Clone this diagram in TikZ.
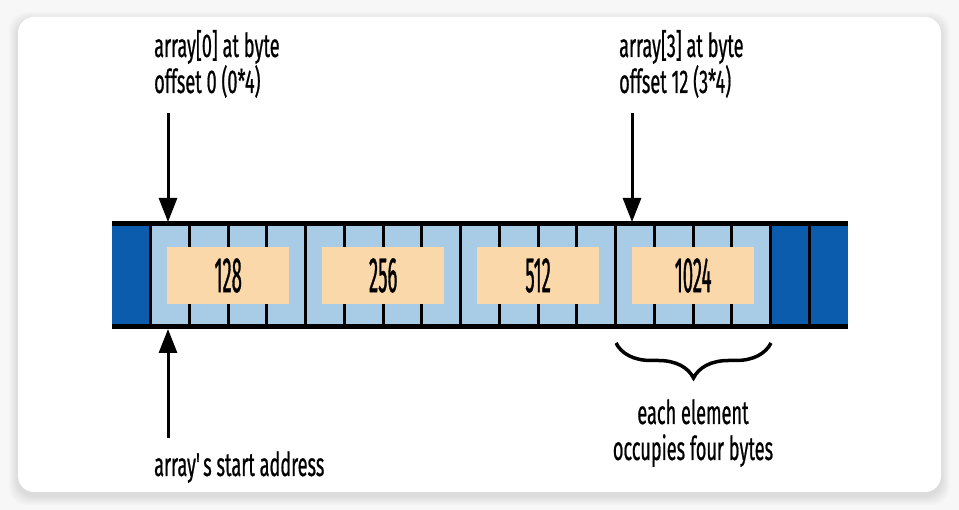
\documentclass[tikz,border=0pt]{standalone}
\usepackage{fontspec}
\setmainfont[FakeStretch=0.55, FakeBold=0.6]{Fira Sans}
\newfontfamily\numfont[FakeStretch=0.37, FakeBold=0.6]{Fira Sans}
\usepackage{tikz}
\usetikzlibrary{arrows.meta,calc,positioning,decorations.pathreplacing}
\definecolor{darkcell}{HTML}{0B5CAD}
\definecolor{lightcell}{HTML}{A8CCE6}
\definecolor{elemfill}{HTML}{FBD8AA}
\definecolor{pagebg}{HTML}{F7F7F7}
\tikzset{cell/.style={fill=lightcell, draw=none, minimum width=38.74pt, minimum height=103pt, inner sep=0pt, outer sep=0pt}}
\tikzset{darkc/.style={cell, fill=darkcell}}
\tikzstyle{elem}=[fill=elemfill, minimum width=122pt, minimum height=57pt, inner sep=0pt, font=\numfont\fontsize{50}{50}\selectfont]
\tikzstyle{lbl}=[inner sep=0pt, align=left, font=\fontsize{33}{36}\selectfont]
\tikzstyle{sep}=[line width=3pt]
\tikzstyle{rail}=[line width=5pt]
\tikzstyle{ptr}=[->, line width=3pt]

\begin{document}
\begin{tikzpicture}[x=1pt, y=-1pt, >={Triangle[length=24pt,width=18pt]}]
\useasboundingbox (0,0) rectangle (959,510);
\fill[pagebg] (0,0) rectangle (959,510);
% card with soft shadow
\foreach \s in {1,...,9}
  \fill[black, opacity=0.012, rounded corners=18pt] (18-\s,17-\s+4) rectangle (941+\s,492+\s+4);
\fill[white, rounded corners=16pt] (18,17) rectangle (941,492);

% memory cells
\foreach \i in {1,...,16}
  \node[cell] (c\i) at ({131.37+38.74*\i},275.5) {};
\foreach \i in {0,17,18}
  \node[darkc] (c\i) at ({131.37+38.74*\i},275.5) {};
\foreach \i in {1,...,18}
  \draw[sep] (c\i.north west) -- (c\i.south west);

% array elements
\node[elem] (e0) at (c2.east) {128};
\node[elem] (e1) at (c6.east) {256};
\node[elem] (e2) at (c10.east) {512};
\node[elem] (e3) at (c14.east) {1024};

\draw[rail] (c0.north west) -- (c18.north east);
\draw[rail] (c0.south west) -- (c18.south east);

% pointers
\node[lbl, anchor=base west] (off0) at (154,93) {array[0] at byte\\offset 0 (0*4)};
\node[lbl, anchor=base west] (off3) at (619,93) {array[3] at byte\\offset 12 (3*4)};
\node[lbl, anchor=base west] (start) at (154,476) {array\textquotesingle s start address};
\coordinate (f0) at (168,113);
\coordinate (t0) at (168,222);
\coordinate (f3) at (632,113);
\coordinate (t3) at (632,222);
\coordinate (fs) at (168,438);
\coordinate (ts) at (168,329);
\draw[ptr] (f0) -- (t0);
\draw[ptr] (f3) -- (t3);
\draw[ptr] (fs) -- (ts);

% element size
\coordinate (bl) at (616,343);
\coordinate (br) at (771,343);
\draw[line width=3.5pt, decorate, decoration={brace, mirror, amplitude=35pt}] (bl) -- (br);
\node[lbl, align=center, anchor=base] (note) at (693,460) {each element\\occupies four bytes};
\end{tikzpicture}
\end{document}
